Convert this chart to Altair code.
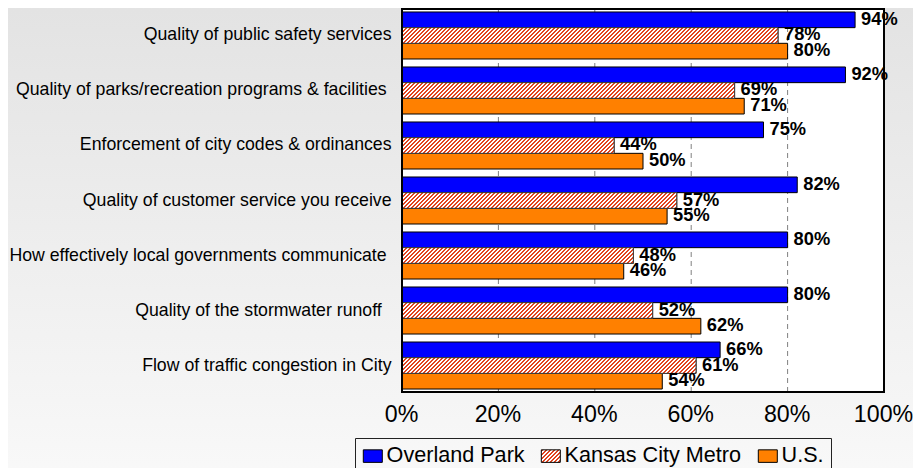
import json
import altair as alt

# ---------------- data ----------------
categories = [
    "Quality of public safety services",
    "Quality of parks/recreation programs & facilities\u00a0\u200b",
    "Enforcement of city codes & ordinances",
    "Quality of customer service you receive",
    "How effectively local governments communicate\u00a0\u200b",
    "Quality of the stormwater runoff\u00a0\u00a0\u200b",
    "Flow of traffic congestion in City",
]
series = ["Overland Park", "Kansas City Metro", "U.S."]
overland_park = [94, 92, 75, 82, 80, 80, 66]
kansas_city_metro = [78, 69, 44, 57, 48, 52, 61]
us = [80, 71, 50, 55, 46, 62, 54]
x_ticks = [0, 20, 40, 60, 80, 100]
grid_values = [20, 40, 60, 80]

# ---------------- style ----------------
W, H = 482, 383
PAD_L, PAD_R, PAD_T, PAD_B = 394, 29, 1, 95
PAD_IN, PAD_OUT = 0.145, 0.054
BLUE, ORANGE, HATCH_RED = "#0000ff", "#ff8000", "#e2431e"
FONT = "Liberation Sans"

step = H / (len(categories) - PAD_IN + 2 * PAD_OUT)
bar_h = step * (1 - PAD_IN) / len(series)


def hatch(w, h, period=4.0, color=HATCH_RED, bg="#ffffff"):
    """Diagonal '////' hatch as a linear gradient in the item's bounding box.
    Gradient parameter t = (x + y) / (w + h) in pixel units."""
    s = (w + h) * w / (w * w + h * h)
    d = period / (w + h)
    stops = []
    k = 0
    while k * d < 1:
        a = k * d
        b = min(a + d / 2, 1.0)
        c = min(a + d, 1.0)
        stops += [
            {"offset": round(a, 5), "color": color},
            {"offset": round(b, 5), "color": color},
            {"offset": round(b, 5), "color": bg},
            {"offset": round(c, 5), "color": bg},
        ]
        k += 1
    return {"gradient": "linear", "x1": 0, "y1": 0, "x2": round(s, 6),
            "y2": round(s * h / w, 6), "stops": stops}


BG_GRADIENT = {"gradient": "linear", "x1": 0, "y1": 0, "x2": 0, "y2": 1,
               "stops": [{"offset": 0, "color": "#e3e3e3"},
                         {"offset": 1, "color": "#f9f9f9"}]}

SYM_W, SYM_H = 19.0, 12.5
legend_hatch = hatch(SYM_W, SYM_H)

# ---------------- records ----------------
bar_records = []
for i, c in enumerate(categories):
    for s, vals in zip(series, [overland_park, kansas_city_metro, us]):
        bar_records.append({"category": c, "series": s, "value": vals[i]})

hatch_records = []
for i, c in enumerate(categories):
    v = kansas_city_metro[i]
    hatch_records.append({"category": c, "series": series[1], "value": v,
                          "hatch": hatch(v / 100 * W, bar_h)})

plot_rect = [{"lo": x_ticks[0], "hi": x_ticks[-1]}]

# ---------------- encodings ----------------
xscale = alt.Scale(domain=[x_ticks[0], x_ticks[-1]], nice=False, zero=True)
yscale = alt.Scale(domain=categories, paddingInner=PAD_IN, paddingOuter=PAD_OUT)
yoff_scale = alt.Scale(domain=series, paddingInner=0, paddingOuter=0)

xaxis = alt.Axis(values=x_ticks, labelExpr="datum.value + '%'", title=None,
                 grid=False, ticks=False, domain=False, labelFlush=False,
                 labelFont=FONT, labelFontSize=23.2, labelColor="black",
                 labelPadding=11, labelOffset=-1, zindex=1)
yaxis = alt.Axis(title=None, ticks=False, domain=False, labelFont=FONT,
                 labelFontSize=17.7, labelColor="black", labelPadding=11,
                 labelLimit=600, zindex=1)


def X(field):
    return alt.X(field, scale=xscale, axis=xaxis)


y_enc = alt.Y("category:N", scale=yscale, axis=yaxis)
y_off = alt.YOffset("series:N", scale=yoff_scale)

bg = alt.Chart(alt.Data(values=[{"k": 0}])).mark_rect(
    fill=BG_GRADIENT, strokeWidth=0
).encode(x=alt.value(-PAD_L), x2=alt.value(W + PAD_R), y=alt.value(-PAD_T),
         y2=alt.value(H + PAD_B))

plot_bg = alt.Chart(alt.Data(values=plot_rect)).mark_rect(fill="white").encode(
    x=X("lo:Q"), x2="hi:Q", y=alt.value(0), y2=alt.value(H))

rules = alt.Chart(alt.Data(values=[{"g": g} for g in grid_values])).mark_rule(
    color="#808080", strokeDash=[5, 4], strokeWidth=1
).encode(x=X("g:Q"), y=alt.value(0), y2=alt.value(H))

bars = alt.Chart(alt.Data(values=bar_records)).mark_bar(
    stroke="black", strokeWidth=1
).encode(
    y=y_enc, yOffset=y_off,
    x=X("value:Q"),
    color=alt.Color(
        "series:N",
        scale=alt.Scale(domain=series,
                        range=[BLUE, alt.ExprRef(json.dumps(legend_hatch)), ORANGE]),
        legend=alt.Legend(
            title=None, orient="none", direction="horizontal",
            legendX=-47, legendY=429, padding=7, columnPadding=14,
            labelOffset=3, labelFont=FONT, labelFontSize=21.6, labelColor="black",
            labelLimit=500,
            symbolType="M-1,-0.66H1V0.66H-1Z", symbolSize=SYM_W * SYM_W,
            symbolStrokeColor="black", symbolStrokeWidth=1, symbolOpacity=1,
            strokeColor="#222222", zindex=1,
        ),
    ),
)

hatch_bars = alt.Chart(alt.Data(values=hatch_records)).mark_bar(
    stroke="#404040", strokeWidth=1
).encode(
    y=y_enc, yOffset=y_off,
    x=X("value:Q"),
    fill=alt.Fill("hatch:N", scale=None, legend=None),
)

border = alt.Chart(alt.Data(values=plot_rect)).mark_rect(
    fillOpacity=0, stroke="black", strokeWidth=2
).encode(x=X("lo:Q"), x2="hi:Q", y=alt.value(0), y2=alt.value(H))

labels = alt.Chart(alt.Data(values=bar_records)).transform_calculate(
    label="datum.value + '%'"
).mark_text(
    align="left", baseline="middle", dx=6, font=FONT, fontSize=18.3,
    fontWeight="bold", color="black"
).encode(
    y=y_enc, yOffset=y_off,
    x=X("value:Q"),
    text="label:N",
)

chart = alt.layer(bg, plot_bg, rules, bars, hatch_bars, border, labels).properties(
    width=W, height=H,
    autosize=alt.AutoSizeParams(type="none"),
    padding={"left": PAD_L, "top": PAD_T, "right": PAD_R, "bottom": PAD_B},
).configure_view(stroke="transparent").configure(background="#f2f2f2")

chart.save("out.html", embed_options={"renderer": "svg", "actions": False})
